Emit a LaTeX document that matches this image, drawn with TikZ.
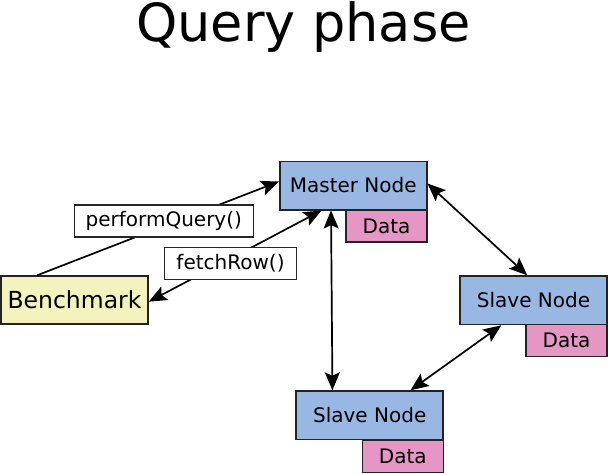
\documentclass[tikz,border=0pt]{standalone}
\usepackage{fontspec}
\setmainfont{DejaVu Sans}
\usetikzlibrary{arrows.meta}
\definecolor{nodeblue}{RGB}{153,183,227}
\definecolor{datapink}{RGB}{229,150,196}
\definecolor{benchyellow}{RGB}{243,243,192}
\definecolor{bordergray}{RGB}{35,35,35}
\tikzset{
  box/.style={draw=bordergray, line width=1.5pt, inner sep=0pt, font=\fontsize{20}{23}\selectfont},
  mnode/.style={box, fill=nodeblue, minimum width=147pt, minimum height=48.5pt},
  dnode/.style={box, fill=datapink, minimum width=81pt, minimum height=32pt},
  bnode/.style={box, fill=benchyellow, minimum width=147pt, minimum height=48pt, font=\fontsize{23.5}{26}\selectfont},
  lnode/.style={draw=black!85, line width=1.2pt, fill=white, inner sep=0pt, font=\fontsize{20}{23}\selectfont},
  conn/.style={line width=1.7pt, black},
  tip/.style={-{Stealth[length=18pt,width=15pt,inset=3.5pt]}},
  dtip/.style={{Stealth[length=18pt,width=15pt,inset=3.5pt]}-{Stealth[length=18pt,width=15pt,inset=3.5pt]}}
}
\begin{document}
\begin{tikzpicture}[x=1pt,y=1pt]
\useasboundingbox (0,0) rectangle (608,-474);
\node[anchor=base, font=\fontsize{52.5}{58}\selectfont] (title) at (303.5,-41.5) {Query phase};
% boxes
\node[mnode] (master) at (353.25,-185.5) {Master Node};
\node[dnode] (mdata) at (386.5,-226) {Data};
\node[bnode] (bench) at (74.5,-300) {Benchmark};
\node[mnode] (rslave) at (533.5,-300.3) {Slave Node};
\node[dnode] (rdata) at (566.5,-340.7) {Data};
\node[mnode] (bslave) at (369.7,-415.3) {Slave Node};
\node[dnode] (bdata) at (402.8,-456.7) {Data};
% connectors
\draw[conn,tip] ([xshift=37pt]bench.north west) -- ([yshift=4pt]master.west);
\draw[conn,dtip] ([xshift=42.5pt]master.south west) -- ([yshift=-1.7pt]bench.east);
\draw[conn,dtip] ([xshift=52pt]master.south west) -- ([xshift=37pt]bslave.north west);
\draw[conn,dtip] ([yshift=2pt]master.east) -- ([xshift=68pt]rslave.north west);
\draw[conn,dtip] ([xshift=42pt]rslave.south west) -- ([xshift=115pt]bslave.north west);
% labels
\node[lnode, minimum width=179pt, minimum height=32pt] (pq) at (163.8,-221) {performQuery()};
\node[lnode, minimum width=132pt, minimum height=32pt] (fr) at (230.5,-263.3) {fetchRow()};
\end{tikzpicture}
\end{document}
